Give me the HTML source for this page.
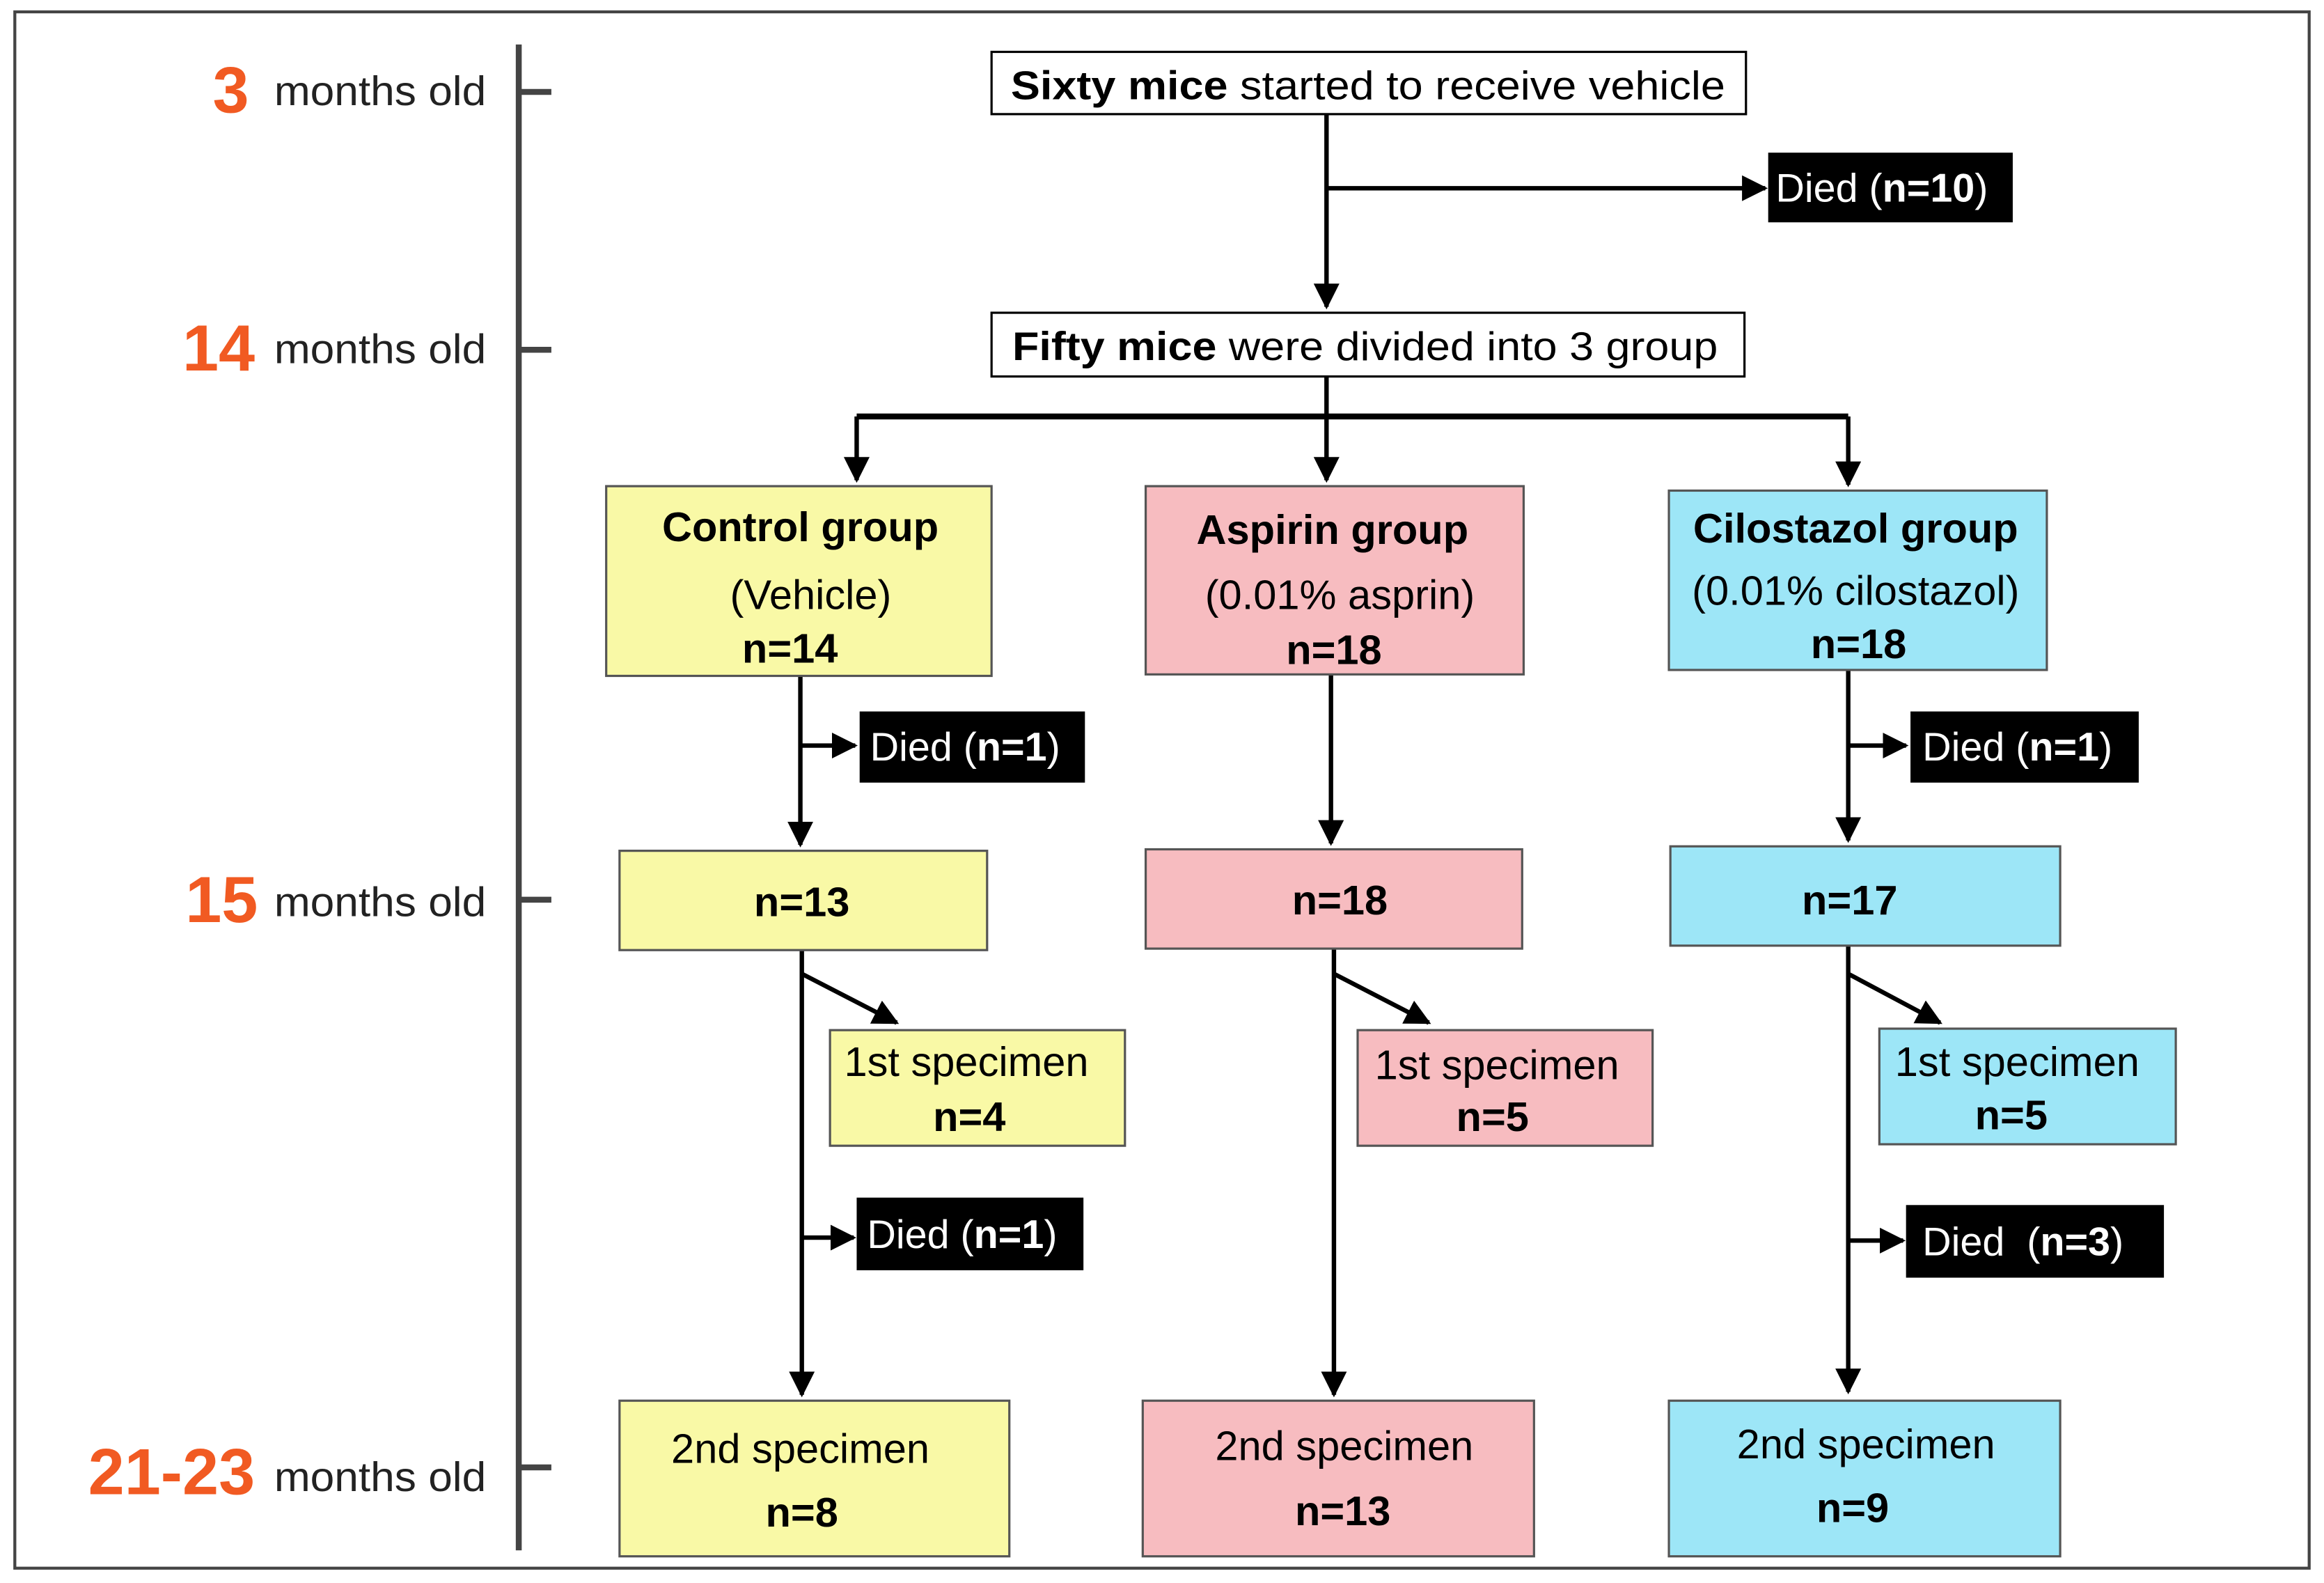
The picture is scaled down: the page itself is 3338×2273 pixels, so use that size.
<!DOCTYPE html>
<html><head><meta charset="utf-8"><style>
html,body{margin:0;padding:0;background:#fff;}
svg{display:block;}
text{font-family:"Liberation Sans",Arial,sans-serif;}
</style></head><body>
<svg width="3338" height="2273" viewBox="0 0 1568 1068" preserveAspectRatio="none" xmlns="http://www.w3.org/2000/svg">
<defs>
<marker id="a" viewBox="0 0 10 10" refX="9" refY="5" markerWidth="5.8" markerHeight="5.8" orient="auto" markerUnits="strokeWidth">
<path d="M0,0 L10,5 L0,10 z" fill="#000"/></marker>
</defs>
<rect x="0" y="0" width="1568" height="1068" fill="#fff"/>
<rect x="10" y="8" width="1548" height="1050" fill="none" stroke="#444" stroke-width="2"/>
<line x1="350" y1="30" x2="350" y2="1046" stroke="#444" stroke-width="4"/>
<g stroke="#444" stroke-width="4">
<line x1="350" y1="62" x2="372" y2="62"/><line x1="350" y1="236" x2="372" y2="236"/>
<line x1="350" y1="607" x2="372" y2="607"/><line x1="350" y1="990" x2="372" y2="990"/>
</g>
<g font-weight="bold" fill="#f15a22" text-anchor="end" font-size="44">
<text x="168" y="76">3</text><text x="172" y="250">14</text><text x="174" y="622">15</text><text x="172" y="1008">21-23</text>
</g>
<g font-size="28" fill="#222">
<text x="185" y="71" textLength="143" lengthAdjust="spacingAndGlyphs">months old</text>
<text x="185" y="245" textLength="143" lengthAdjust="spacingAndGlyphs">months old</text>
<text x="185" y="618" textLength="143" lengthAdjust="spacingAndGlyphs">months old</text>
<text x="185" y="1006" textLength="143" lengthAdjust="spacingAndGlyphs">months old</text>
</g>
<rect x="669" y="35" width="509" height="42" fill="#fff" stroke="#000" stroke-width="1.5"/>
<text x="923" y="67" font-size="27" text-anchor="middle" textLength="482" lengthAdjust="spacingAndGlyphs"><tspan font-weight="bold">Sixty mice</tspan> started to receive vehicle</text>
<rect x="669" y="211" width="508" height="43" fill="#fff" stroke="#000" stroke-width="1.5"/>
<text x="921" y="243" font-size="27" text-anchor="middle" textLength="476" lengthAdjust="spacingAndGlyphs"><tspan font-weight="bold">Fifty mice</tspan> were divided into 3 group</text>
<g stroke="#000" stroke-width="3" fill="none">
<line x1="895" y1="77" x2="895" y2="207" marker-end="url(#a)"/>
<line x1="895" y1="127" x2="1191" y2="127" marker-end="url(#a)"/>
<line x1="895" y1="254" x2="895" y2="281"/>
<line x1="578" y1="281" x2="1247" y2="281" stroke-width="4"/>
<line x1="578" y1="281" x2="578" y2="324" marker-end="url(#a)"/>
<line x1="895" y1="281" x2="895" y2="324" marker-end="url(#a)"/>
<line x1="1247" y1="281" x2="1247" y2="327" marker-end="url(#a)"/>
<line x1="540" y1="456" x2="540" y2="570" marker-end="url(#a)"/>
<line x1="540" y1="503" x2="577" y2="503" marker-end="url(#a)"/>
<line x1="898" y1="455" x2="898" y2="569" marker-end="url(#a)"/>
<line x1="1247" y1="452" x2="1247" y2="567" marker-end="url(#a)"/>
<line x1="1247" y1="503" x2="1286" y2="503" marker-end="url(#a)"/>
<line x1="541" y1="641" x2="541" y2="941" marker-end="url(#a)"/>
<line x1="541" y1="657" x2="605" y2="690" marker-end="url(#a)"/>
<line x1="541" y1="835" x2="576" y2="835" marker-end="url(#a)"/>
<line x1="900" y1="640" x2="900" y2="941" marker-end="url(#a)"/>
<line x1="900" y1="657" x2="964" y2="690" marker-end="url(#a)"/>
<line x1="1247" y1="638" x2="1247" y2="939" marker-end="url(#a)"/>
<line x1="1247" y1="657" x2="1309" y2="690" marker-end="url(#a)"/>
<line x1="1247" y1="837" x2="1284" y2="837" marker-end="url(#a)"/>
</g>
<g fill="#000">
<rect x="1193" y="103" width="165" height="47"/>
<rect x="580" y="480" width="152" height="48"/>
<rect x="1289" y="480" width="154" height="48"/>
<rect x="578" y="808" width="153" height="49"/>
<rect x="1286" y="813" width="174" height="49"/>
</g>
<g fill="#fff" font-size="27">
<text x="1198" y="136">Died (<tspan font-weight="bold">n=10</tspan>)</text>
<text x="587" y="513">Died (<tspan font-weight="bold">n=1</tspan>)</text>
<text x="1297" y="513">Died (<tspan font-weight="bold">n=1</tspan>)</text>
<text x="585" y="842">Died (<tspan font-weight="bold">n=1</tspan>)</text>
<text x="1297" y="847" xml:space="preserve">Died  (<tspan font-weight="bold">n=3</tspan>)</text>
</g>
<g stroke="#555" stroke-width="1.5">
<rect x="409" y="328" width="260" height="128" fill="#f9f9a6"/>
<rect x="773" y="328" width="255" height="127" fill="#f7bcc0"/>
<rect x="1126" y="331" width="255" height="121" fill="#9de6f7"/>
<rect x="418" y="574" width="248" height="67" fill="#f9f9a6"/>
<rect x="773" y="573" width="254" height="67" fill="#f7bcc0"/>
<rect x="1127" y="571" width="263" height="67" fill="#9de6f7"/>
<rect x="560" y="695" width="199" height="78" fill="#f9f9a6"/>
<rect x="916" y="695" width="199" height="78" fill="#f7bcc0"/>
<rect x="1268" y="694" width="200" height="78" fill="#9de6f7"/>
<rect x="418" y="945" width="263" height="105" fill="#f9f9a6"/>
<rect x="771" y="945" width="264" height="105" fill="#f7bcc0"/>
<rect x="1126" y="945" width="264" height="105" fill="#9de6f7"/>
</g>
<g font-size="28" text-anchor="middle" fill="#000">
<text x="540" y="365" font-weight="bold">Control group</text>
<text x="547" y="411">(Vehicle)</text>
<text x="533" y="447" font-weight="bold">n=14</text>
<text x="899" y="367" font-weight="bold">Aspirin group</text>
<text x="904" y="411">(0.01% asprin)</text>
<text x="900" y="448" font-weight="bold">n=18</text>
<text x="1252" y="366" font-weight="bold">Cilostazol group</text>
<text x="1252" y="408">(0.01% cilostazol)</text>
<text x="1254" y="444" font-weight="bold">n=18</text>
<text x="541" y="618" font-weight="bold">n=13</text>
<text x="904" y="617" font-weight="bold">n=18</text>
<text x="1248" y="617" font-weight="bold">n=17</text>
<text x="652" y="726">1st specimen</text>
<text x="654" y="763" font-weight="bold">n=4</text>
<text x="1010" y="728">1st specimen</text>
<text x="1007" y="763" font-weight="bold">n=5</text>
<text x="1361" y="726">1st specimen</text>
<text x="1357" y="762" font-weight="bold">n=5</text>
<text x="540" y="987">2nd specimen</text>
<text x="541" y="1030" font-weight="bold">n=8</text>
<text x="907" y="985">2nd specimen</text>
<text x="906" y="1029" font-weight="bold">n=13</text>
<text x="1259" y="984">2nd specimen</text>
<text x="1250" y="1027" font-weight="bold">n=9</text>
</g>
</svg>
</body></html>
